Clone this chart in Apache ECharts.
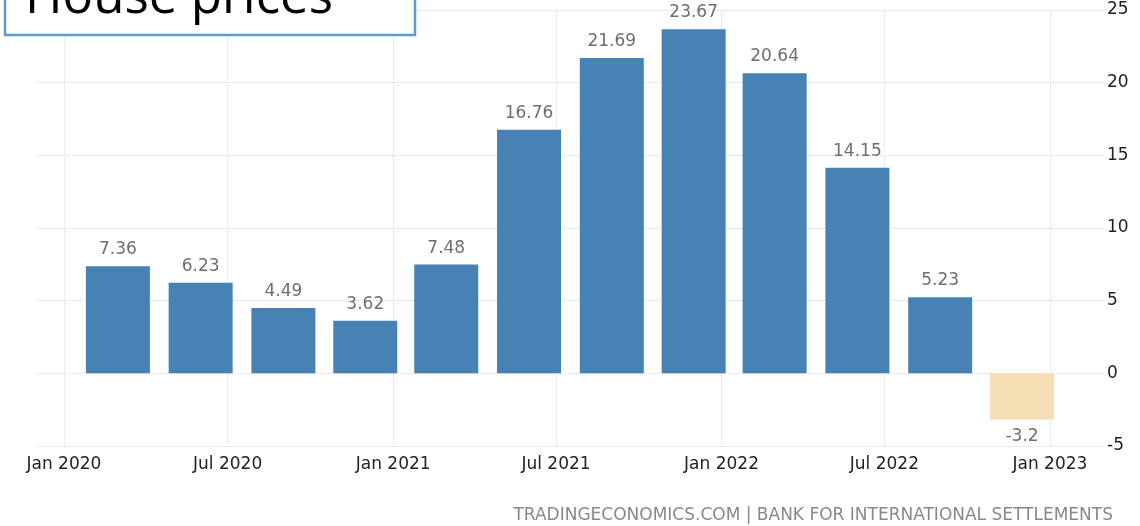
<!DOCTYPE html>
<html>
<head>
<meta charset="utf-8">
<title>House prices</title>
<script src="https://cdn.jsdelivr.net/npm/echarts@6/dist/echarts.min.js"></script>
<style>
  html, body { margin: 0; padding: 0; background: #fff; }
  #chart { width: 1140px; height: 526px; }
</style>
</head>
<body>
<div id="chart"></div>
<script>
// Quarterly house price change (%), each bar placed on its quarter's date
const periods = [
  '2020-03-01', '2020-06-01', '2020-09-01', '2020-12-01',
  '2021-03-01', '2021-06-01', '2021-09-01', '2021-12-01',
  '2022-03-01', '2022-06-01', '2022-09-01', '2022-12-01'
];
const changes = [7.36, 6.23, 4.49, 3.62, 7.48, 16.76, 21.69, 23.67, 20.64, 14.15, 5.23, -3.2];

// Half-year ticks along the date axis
const tickDates = ['2020-01-01', '2020-07-01', '2021-01-01', '2021-07-01', '2022-01-01', '2022-07-01', '2023-01-01'];
const axisStart = '2019-12-01';
const axisEnd = '2023-03-01';
const monthNames = ['Jan', 'Feb', 'Mar', 'Apr', 'May', 'Jun', 'Jul', 'Aug', 'Sep', 'Oct', 'Nov', 'Dec'];

const ts = d => Date.UTC(+d.slice(0, 4), +d.slice(5, 7) - 1, +d.slice(8, 10));

const FONT = '"DejaVu Sans", "Open Sans", sans-serif';
const TITLE_FONT = '"Open Sans", "DejaVu Sans", sans-serif';
const POS_COLOR = '#4682b4';
const NEG_COLOR = '#f5deb3';
const GRID_LINE = { color: '#d9d9d9', type: 'dotted', width: 1 };

const chart = echarts.init(document.getElementById('chart'), null, { renderer: 'canvas' });

const barData = periods.map((d, i) => {
  const v = changes[i];
  return {
    value: [ts(d), v],
    itemStyle: { color: v < 0 ? NEG_COLOR : POS_COLOR },
    label: { position: v < 0 ? 'bottom' : 'top' }
  };
});

chart.setOption({
  animation: false,
  backgroundColor: '#fff',
  grid: { left: 36, right: 37, top: 10, bottom: 80 },
  xAxis: {
    type: 'value',
    min: ts(axisStart),
    max: ts(axisEnd),
    axisLine: { show: false },
    axisTick: { show: false },
    splitLine: { show: false },
    axisLabel: {
      customValues: tickDates.map(ts),
      formatter: function (val) {
        const d = new Date(val);
        return monthNames[d.getUTCMonth()] + ' ' + d.getUTCFullYear();
      },
      color: '#222',
      fontSize: 17,
      fontFamily: FONT,
      margin: 10
    }
  },
  yAxis: {
    type: 'value',
    position: 'right',
    min: -5,
    max: 25,
    interval: 5,
    axisLine: { show: false },
    axisTick: { show: false },
    splitLine: { show: true, lineStyle: GRID_LINE },
    axisLabel: {
      color: '#222',
      fontSize: 17,
      fontFamily: FONT,
      margin: 4,
      align: 'left'
    }
  },
  series: [
    {
      // vertical guide lines at the half-year ticks, kept behind the bars
      type: 'line',
      z: 1,
      data: [],
      markLine: {
        z: 1,
        silent: true,
        symbol: 'none',
        label: { show: false },
        lineStyle: GRID_LINE,
        data: tickDates.map(d => ({ xAxis: ts(d) }))
      }
    },
    {
      type: 'bar',
      z: 3,
      barWidth: 64,
      data: barData,
      label: {
        show: true,
        distance: 8,
        color: '#6e6e6e',
        fontSize: 17,
        fontFamily: FONT,
        formatter: p => String(p.value[1])
      }
    }
  ],
  graphic: [
    {
      type: 'rect',
      z: 100,
      shape: { x: 5, y: -20, width: 410, height: 55 },
      style: { fill: '#fff', stroke: '#5b9bd5', lineWidth: 2.5 }
    },
    {
      type: 'text',
      z: 101,
      x: 25,
      y: -27,
      style: {
        text: 'House prices',
        font: '51px ' + TITLE_FONT,
        fill: '#000',
        verticalAlign: 'top'
      }
    },
    {
      type: 'text',
      x: 1113,
      y: 516,
      style: {
        text: 'TRADINGECONOMICS.COM | BANK FOR INTERNATIONAL SETTLEMENTS',
        font: '17px ' + FONT,
        fill: '#888',
        align: 'right',
        verticalAlign: 'middle'
      }
    }
  ]
});
</script>
</body>
</html>
